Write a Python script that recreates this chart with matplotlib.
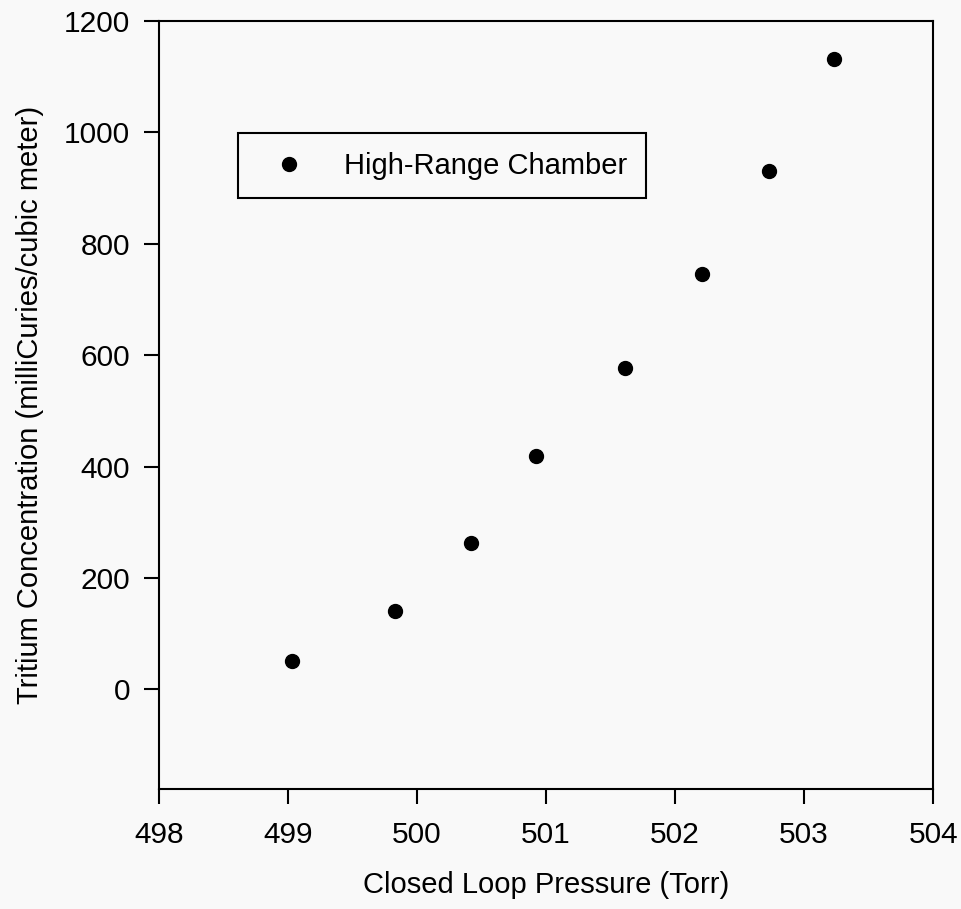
import matplotlib
matplotlib.use("Agg")
import matplotlib.pyplot as plt

# lectures sur le graphique
pressure = [499.03, 499.83, 500.42, 500.92, 501.61, 502.21, 502.73, 503.23]
tritium = [51, 140, 262, 418, 577, 746, 930, 1132]
xTicks = [498, 499, 500, 501, 502, 503, 504]
yTicks = [0, 200, 400, 600, 800, 1000, 1200]

plt.rcParams['font.family'] = ['Liberation Sans', 'DejaVu Sans']

fig = plt.figure(figsize=(9.61, 9.09), dpi=100, facecolor="#f9f9f9")
ax = fig.add_axes([0.1655, 0.132, 0.8055, 0.845])
ax.set_facecolor("#f9f9f9")

ax.plot(pressure, tritium, linestyle="none", marker="o", markersize=10,
		color="black", label="High-Range Chamber")

ax.set_xlim(498, 504)
ax.set_ylim(-179, 1200)
ax.set_xticks(xTicks)
ax.set_yticks(yTicks)
ax.tick_params(direction="out", length=11, width=1.5, labelsize=21.5)
ax.tick_params(axis="y", pad=10)
ax.tick_params(axis="x", pad=12)
for side in ax.spines.values():
	side.set_linewidth(1.5)

ax.set_xlabel("Closed Loop Pressure (Torr)", fontsize=21, labelpad=16)
ax.set_ylabel("Tritium Concentration (milliCuries/cubic meter)", fontsize=21, labelpad=14)

leg = ax.legend(loc="upper left", bbox_to_anchor=(0.102, 0.854), fontsize=21,
		frameon=True, fancybox=False, edgecolor="black", framealpha=1,
		facecolor="#f9f9f9", handlelength=2.24, handletextpad=0.74,
		borderpad=0.64, borderaxespad=0)
leg.get_frame().set_linewidth(1.5)

plt.savefig("out.png", dpi=100, facecolor=fig.get_facecolor())
